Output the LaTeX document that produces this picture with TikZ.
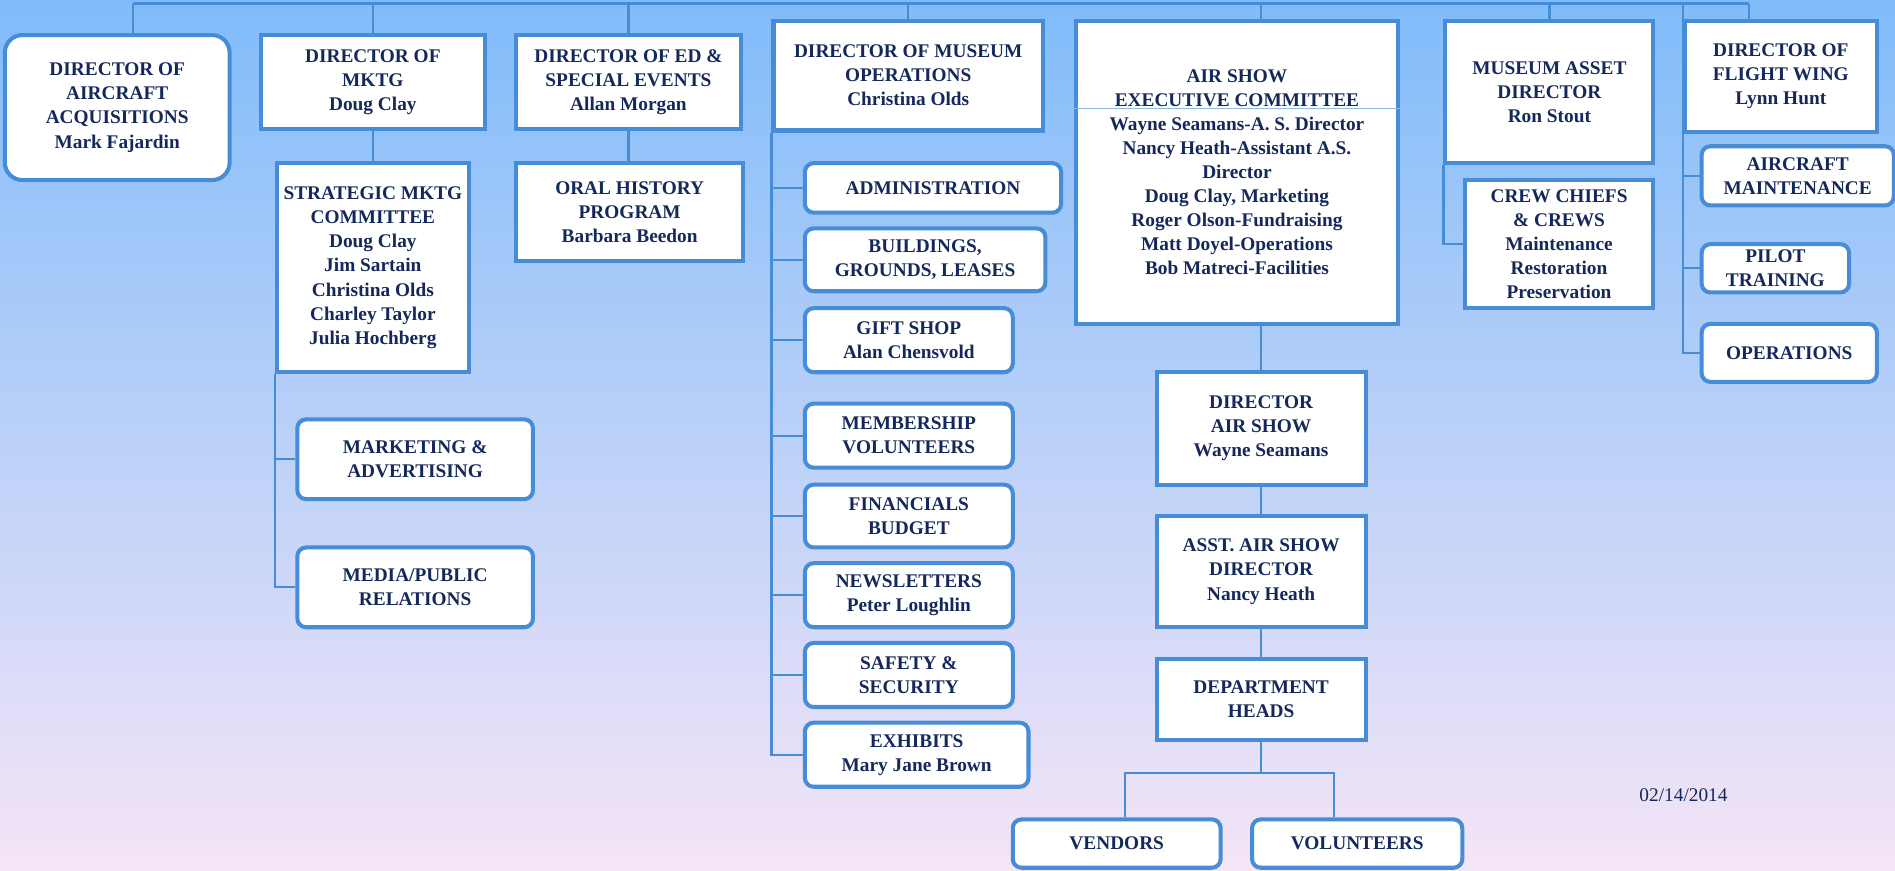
\documentclass[tikz,border=0pt]{standalone}
\usepackage{fontspec}
\setmainfont{Liberation Serif}
\usetikzlibrary{calc}

\definecolor{bgtop}{RGB}{128,188,250}
\definecolor{bgmid}{RGB}{194,214,238}
\definecolor{bgbot}{RGB}{245,229,247}
\definecolor{boxline}{RGB}{70,140,214}
\definecolor{navy}{RGB}{20,40,92}
\newcommand{\pxu}{0.024172cm}
\tikzset{
  orgbox/.style={draw=boxline,line width=2.3pt,fill=white,align=center,inner sep=1pt,text=navy,font=\bfseries\fontsize{11}{13.7}\selectfont},
  roundbox/.style={orgbox,rounded corners=5pt},
  boxsize/.style 2 args={minimum width={#1*\pxu},minimum height={#2*\pxu}},
  link/.style={draw=boxline,line width=1.3pt},
  datestamp/.style={text=navy,font=\fontsize{11}{13}\selectfont}
}

\begin{document}
\begin{tikzpicture}[x=\pxu,y=-\pxu]
\useasboundingbox (0,0) rectangle (1568,720);
\shade[top color=bgtop,middle color=bgmid,bottom color=bgbot] (0,0) rectangle (1568,720);

% top row
\node[roundbox,boxsize={186}{120},rounded corners=10pt] (acq) at (97,89) {DIRECTOR OF\\AIRCRAFT\\ACQUISITIONS\\Mark Fajardin};
\node[orgbox,boxsize={185}{78}] (mktg) at (308.5,68) {DIRECTOR OF\\MKTG\\Doug Clay};
\node[orgbox,boxsize={186}{78}] (edu) at (520,68) {DIRECTOR OF ED \&\\SPECIAL EVENTS\\Allan Morgan};
\node[orgbox,boxsize={223}{91}] (musops) at (751.5,62.5) {DIRECTOR OF MUSEUM\\OPERATIONS\\Christina Olds};
\node[orgbox,boxsize={267}{251}] (asexec) at (1023.5,142.5) {AIR SHOW\\EXECUTIVE COMMITTEE\\Wayne Seamans-A. S. Director\\Nancy Heath-Assistant A.S.\\Director\\Doug Clay, Marketing\\Roger Olson-Fundraising\\Matt Doyel-Operations\\Bob Matreci-Facilities};
\node[orgbox,boxsize={172}{118}] (asset) at (1282,76) {MUSEUM ASSET\\DIRECTOR\\Ron Stout};
\node[orgbox,boxsize={159}{92}] (flight) at (1473.5,63) {DIRECTOR OF\\FLIGHT WING\\Lynn Hunt};

% marketing
\node[orgbox,boxsize={159}{173}] (strat) at (308.5,221.5) {STRATEGIC MKTG\\COMMITTEE\\Doug Clay\\Jim Sartain\\Christina Olds\\Charley Taylor\\Julia Hochberg};
\node[roundbox,boxsize={195}{66}] (madv) at (343.5,380) {MARKETING \&\\ADVERTISING};
\node[roundbox,boxsize={195}{66}] (media) at (343.5,486) {MEDIA/PUBLIC\\RELATIONS};

% education
\node[orgbox,boxsize={188}{81}] (oral) at (521,175.5) {ORAL HISTORY\\PROGRAM\\Barbara Beedon};

% museum operations
\node[roundbox,boxsize={212}{41}] (admin) at (772,155.5) {ADMINISTRATION};
\node[roundbox,boxsize={199}{52}] (bldg) at (765.5,215) {BUILDINGS,\\GROUNDS, LEASES};
\node[roundbox,boxsize={172}{53}] (gift) at (752,281.5) {GIFT SHOP\\Alan Chensvold};
\node[roundbox,boxsize={172}{53}] (member) at (752,360.5) {MEMBERSHIP\\VOLUNTEERS};
\node[roundbox,boxsize={172}{52}] (finance) at (752,427) {FINANCIALS\\BUDGET};
\node[roundbox,boxsize={172}{53}] (news) at (752,492.5) {NEWSLETTERS\\Peter Loughlin};
\node[roundbox,boxsize={172}{53}] (safety) at (752,558.5) {SAFETY \&\\SECURITY};
\node[roundbox,boxsize={185}{53}] (exhib) at (758.5,624.5) {EXHIBITS\\Mary Jane Brown};

% air show
\node[orgbox,boxsize={173}{93}] (asdir) at (1043.5,354.5) {DIRECTOR\\AIR SHOW\\Wayne Seamans};
\node[orgbox,boxsize={173}{92}] (asasst) at (1043.5,473) {ASST. AIR SHOW\\DIRECTOR\\Nancy Heath};
\node[orgbox,boxsize={173}{67}] (depth) at (1043.5,578.5) {DEPARTMENT\\HEADS};
\node[roundbox,boxsize={172}{40}] (vendors) at (924,698) {VENDORS};
\node[roundbox,boxsize={174}{40}] (volunt) at (1123,698) {VOLUNTEERS};

% asset and flight wing
\node[orgbox,boxsize={156}{106}] (crew) at (1290,202) {CREW CHIEFS\\\& CREWS\\Maintenance\\Restoration\\Preservation};
\node[roundbox,boxsize={159}{49}] (acmaint) at (1487.5,145.5) {AIRCRAFT\\MAINTENANCE};
\node[roundbox,boxsize={122}{40}] (pilot) at (1469,222) {PILOT\\TRAINING};
\node[roundbox,boxsize={145}{48}] (ops) at (1480.5,292) {OPERATIONS};

\node[datestamp] (stamp) at (1393,658) {02/14/2014};

% separator in the committee box
\draw[draw=boxline!60,line width=0.6pt] (asexec.west |- 0,90) -- (asexec.east |- 0,90);

% connectors
\coordinate (topL) at (110,3);
\coordinate (topR) at (1447,3);
\draw[link] (topL) -- (topR);
\draw[link] (topL) -- (topL |- acq.north);
\foreach \n in {mktg,edu,musops,asset}
  \draw[link] (\n.north) -- (\n.north |- topL);
\draw[link] (asdir.north |- asexec.north) -- (asdir.north |- topL);
\draw[link] (topR) -- (topR |- flight.north);

\draw[link] (mktg.south) -- (mktg.south |- strat.north);
\draw[link] (strat.south west) |- (media.west);
\draw[link] (strat.south west |- madv.west) -- (madv.west);

\draw[link] (edu.south) -- (edu.south |- oral.north);

\draw[link] (musops.south west) |- (exhib.west);
\foreach \n in {admin,bldg,gift,member,finance,news,safety}
  \draw[link] (musops.south west |- \n.west) -- (\n.west);

\draw[link] (asdir.north |- asexec.south) -- (asdir.north);
\draw[link] (asdir) -- (asasst);
\draw[link] (asasst) -- (depth);
\coordinate (fork) at ($(depth.south)+(0,26)$);
\draw[link] (depth.south) -- (fork);
\draw[link] ($(vendors.north)+(7,0)$) |- (fork) -| ($(volunt.north)+(-19,0)$);

\draw[link] (asset.south west) |- (crew.west);

\draw[link] (flight.west |- topL) |- (ops.west);
\foreach \n in {acmaint,pilot}
  \draw[link] (flight.west |- \n.west) -- (\n.west);
\end{tikzpicture}
\end{document}
